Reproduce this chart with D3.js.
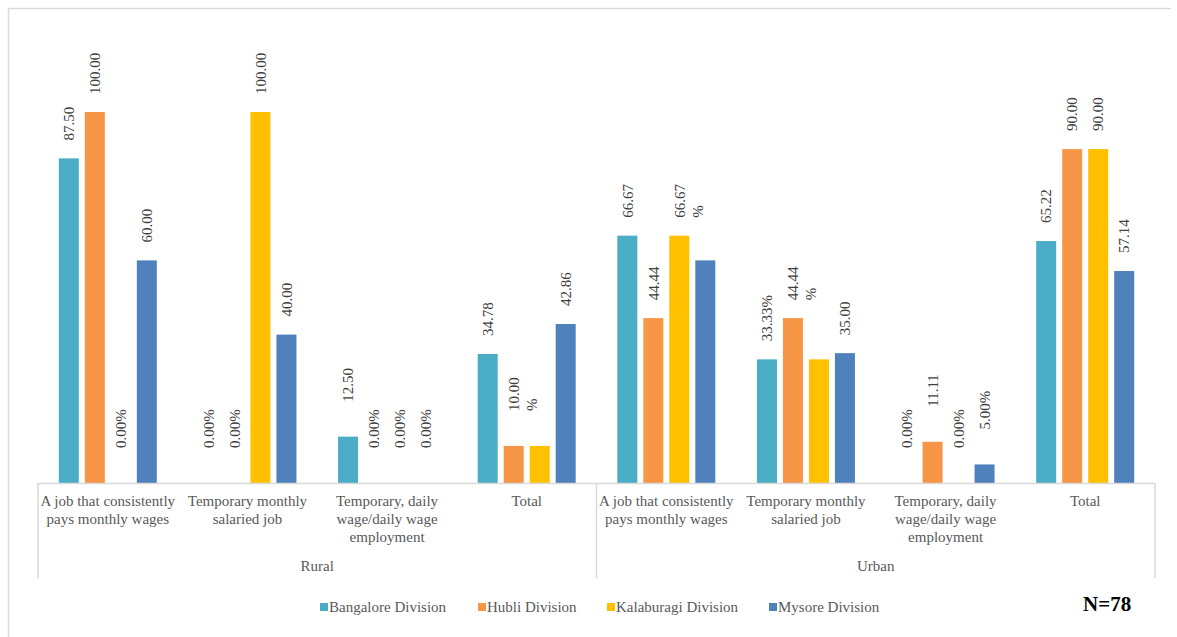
<!DOCTYPE html>
<html>
<head>
<meta charset="utf-8">
<script src="https://cdn.jsdelivr.net/npm/d3@7"></script>
<style>
  html, body { margin: 0; padding: 0; background: #ffffff; }
  svg { display: block; font-family: "Liberation Serif", "Times New Roman", serif; }
</style>
</head>
<body>
<svg id="chart" width="1177" height="637"></svg>
<script>
// Area groups and the job categories inside each of them
const groups = ["Rural", "Urban"];
const categories = [
  ["A job that consistently", "pays monthly wages"],
  ["Temporary monthly", "salaried job"],
  ["Temporary, daily", "wage/daily wage", "employment"],
  ["Total"]
];

const seriesNames = ["Bangalore Division", "Hubli Division", "Kalaburagi Division", "Mysore Division"];
const seriesColors = ["#4bacc6", "#f79646", "#ffc000", "#4f81bd"];

// Percentages: Rural (4 categories) followed by Urban (4 categories)
const bangalore  = [87.50, 0, 12.50, 34.78, 66.67, 33.33, 0, 65.22];
const hubli      = [100.00, 0, 0, 10.00, 44.44, 44.44, 11.11, 90.00];
const kalaburagi = [0, 100.00, 0, 10.00, 66.67, 33.33, 0, 90.00];
const mysore     = [60.00, 40.00, 0, 42.86, 60.00, 35.00, 5.00, 57.14];

// Data labels as printed ("\n" = line break inside the label, null = no label)
const bangaloreLabels  = ["87.50", "0.00%", "12.50", "34.78", "66.67", "33.33%", "0.00%", "65.22"];
const hubliLabels      = ["100.00", "0.00%", "0.00%", "10.00\n%", "44.44", "44.44\n%", "11.11", "90.00"];
const kalaburagiLabels = ["0.00%", "100.00", "0.00%", null, "66.67\n%", null, "0.00%", "90.00"];
const mysoreLabels     = ["60.00", "40.00", "0.00%", "42.86", null, "35.00", "5.00%", "57.14"];

const sampleNote = "N=78";

const seriesValues = [bangalore, hubli, kalaburagi, mysore];
const seriesLabels = [bangaloreLabels, hubliLabels, kalaburagiLabels, mysoreLabels];

const svg = d3.select("#chart");
const W = 1177, H = 637;

// outer frame (top and left edges)
svg.append("line").attr("x1", 8).attr("x2", 1171).attr("y1", 8.5).attr("y2", 8.5)
  .attr("stroke", "#d9d9d9").attr("stroke-width", 1.5);
svg.append("line").attr("x1", 8.5).attr("x2", 8.5).attr("y1", 8).attr("y2", H)
  .attr("stroke", "#d9d9d9").attr("stroke-width", 1.5);

const plotLeft = 38, plotRight = 1155, baseY = 483, topY = 112;

// flat list of 8 slots (group x category)
const slots = [];
groups.forEach((g, gi) => categories.forEach((c, ci) => slots.push({ g, gi, c, ci, idx: gi * categories.length + ci })));

const x0 = d3.scaleBand().domain(slots.map(s => s.idx)).range([plotLeft, plotRight]).paddingInner(0).paddingOuter(0);
const groupScale = d3.scaleBand().domain(groups).range([plotLeft, plotRight]);
const x1 = d3.scaleBand().domain(d3.range(seriesNames.length)).range([0, 104]).paddingInner(6 / 26).paddingOuter(3 / 26);
const y = d3.scaleLinear().domain([0, 100]).range([baseY, topY]);

// bars
const bars = [];
slots.forEach(s => {
  seriesValues.forEach((vals, si) => {
    bars.push({ slot: s.idx, si, value: vals[s.idx], label: seriesLabels[si][s.idx] });
  });
});

const barX = d => x0(d.slot) + x0.bandwidth() / 2 - 52 + x1(d.si);

svg.append("g").selectAll("rect").data(bars.filter(d => d.value > 0)).join("rect")
  .attr("x", barX)
  .attr("width", x1.bandwidth())
  .attr("y", d => y(d.value))
  .attr("height", d => baseY - y(d.value))
  .attr("fill", d => seriesColors[d.si]);

// rotated data labels
const labelG = svg.append("g").attr("font-size", 15).attr("fill", "#404040");
bars.filter(d => d.label).forEach(d => {
  const cx = barX(d) + x1.bandwidth() / 2;
  const gap = d.value < 20 ? 35 : 18;
  const t = labelG.append("text")
    .attr("transform", `translate(${cx},${y(d.value) - gap}) rotate(-90)`)
    .attr("text-anchor", "start");
  d.label.split("\n").forEach((line, i) => {
    t.append("tspan").attr("x", 0).attr("y", 0)
      .attr("dy", i === 0 ? "0.35em" : `${0.35 + 1.2 * i}em`)
      .text(line);
  });
});

// category axis
const axisColor = "#d9d9d9";
svg.append("line").attr("x1", plotLeft).attr("x2", plotRight).attr("y1", baseY + 0.5).attr("y2", baseY + 0.5)
  .attr("stroke", axisColor).attr("stroke-width", 1.5);
const dividers = [plotLeft, groupScale("Urban"), plotRight];
svg.append("g").selectAll("line").data(dividers).join("line")
  .attr("x1", d => d).attr("x2", d => d)
  .attr("y1", baseY).attr("y2", 578)
  .attr("stroke", axisColor).attr("stroke-width", 1.5);

const catG = svg.append("g").attr("font-size", 15).attr("fill", "#595959").attr("text-anchor", "middle");
slots.forEach(s => {
  const cx = x0(s.idx) + x0.bandwidth() / 2;
  s.c.forEach((line, i) => {
    catG.append("text").attr("x", cx).attr("y", 501 + i * 18).attr("dy", "0.35em").text(line);
  });
});
groups.forEach(g => {
  catG.append("text").attr("x", groupScale(g) + groupScale.bandwidth() / 2).attr("y", 566)
    .attr("dy", "0.35em").text(g);
});

// legend
const legendX = [320, 478, 607, 769];
const legend = svg.append("g").attr("font-size", 15).attr("fill", "#595959");
seriesNames.forEach((n, i) => {
  legend.append("rect").attr("x", legendX[i]).attr("y", 603).attr("width", 8).attr("height", 8)
    .attr("fill", seriesColors[i]);
  legend.append("text").attr("x", legendX[i] + 9).attr("y", 607).attr("dy", "0.35em").text(n);
});

svg.append("text").attr("x", 1083).attr("y", 604).attr("dy", "0.35em")
  .attr("font-size", 21).attr("font-weight", "bold").attr("fill", "#000")
  .text(sampleNote);
</script>
</body>
</html>
